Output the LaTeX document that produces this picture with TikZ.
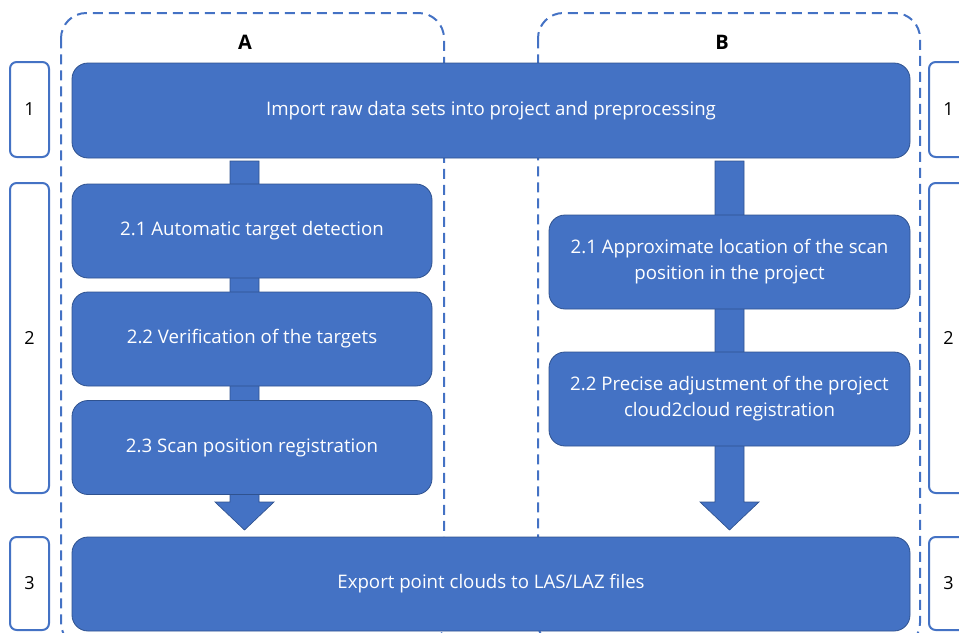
\documentclass[tikz,border=0pt]{standalone}
\usepackage{fontspec}
\setmainfont{Open Sans}
\usetikzlibrary{calc}
\definecolor{bfill}{HTML}{4472C4}
\definecolor{bedge}{HTML}{2F528F}
\tikzset{
  stepbox/.style={draw=bedge, line width=0.6pt, fill=bfill, rounded corners=12pt, text=white,
    align=center, inner sep=0pt, font=\fontsize{14}{19.5}\selectfont},
  sidebox/.style={draw=bfill, line width=1.5pt, fill=white, rounded corners=5pt, inner sep=0pt,
    minimum width=29.25pt, font=\fontsize{13.5}{16}\selectfont},
  groupbox/.style={draw=bfill, line width=1.5pt, dash pattern=on 7.5pt off 4.5pt, rounded corners=19pt},
  arrowbody/.style={fill=bfill, draw=bedge, line width=0.5pt},
  grouplabel/.style={font=\fontsize{15}{18}\selectfont\bfseries}
}
\begin{document}
\begin{tikzpicture}[x=0.75pt, y=-0.75pt]
\useasboundingbox (0,0) rectangle (959,632);
\clip (0,0) rectangle (959,632);
% group boxes
\draw[groupbox] (61,13) rectangle (444,648);
\draw[groupbox] (538,13) rectangle (920,648);
\node[grouplabel] (labA) at (245,42) {A};
\node[grouplabel] (labB) at (722,42) {B};
% arrow coordinates
\coordinate (la1) at (244.5,161);
\coordinate (la2) at (244.5,530);
\coordinate (ra1) at (729.5,161);
\coordinate (ra2) at (729.5,530);
% arrows (behind boxes)
\filldraw[arrowbody] ($(la1)+(-14.5,0)$) -- ($(la1)+(14.5,0)$) -- ($(la2)+(14.5,-28)$) -- ($(la2)+(29.5,-28)$) -- (la2) -- ($(la2)+(-29.5,-28)$) -- ($(la2)+(-14.5,-28)$) -- cycle;
\filldraw[arrowbody] ($(ra1)+(-14.5,0)$) -- ($(ra1)+(14.5,0)$) -- ($(ra2)+(14.5,-28)$) -- ($(ra2)+(29.5,-28)$) -- (ra2) -- ($(ra2)+(-29.5,-28)$) -- ($(ra2)+(-14.5,-28)$) -- cycle;
% main boxes
\node[stepbox, minimum width=628.5pt, minimum height=71.25pt] (top) at (491,110.5) {Import raw data sets into project and preprocessing};
\node[stepbox, minimum width=628.5pt, minimum height=70.5pt] (bot) at (491,584) {Export point clouds to LAS/LAZ files};
\node[stepbox, minimum width=270pt, minimum height=70.5pt] (a1) at (252,231) {2.1 Automatic target detection};
\node[stepbox, minimum width=270pt, minimum height=70.5pt] (a2) at (252,339) {2.2 Verification of the targets};
\node[stepbox, minimum width=270pt, minimum height=70.5pt] (a3) at (252,447.5) {2.3 Scan position registration};
\node[stepbox, minimum width=270.75pt, minimum height=70.5pt] (b1) at (729.5,262) {2.1 Approximate location of the scan\\position in the project};
\node[stepbox, minimum width=270.75pt, minimum height=70.5pt] (b2) at (729.5,399) {2.2 Precise adjustment of the project\\cloud2cloud registration};
% side boxes
\node[sidebox, minimum height=71.25pt] (l1) at (29.5,109.5) {1};
\node[sidebox, minimum height=232.5pt] (l2) at (29.5,338) {2};
\node[sidebox, minimum height=69.75pt] (l3) at (29.5,583.5) {3};
\node[sidebox, minimum height=71.25pt] (r1) at (948.5,109.5) {1};
\node[sidebox, minimum height=232.5pt] (r2) at (948.5,338) {2};
\node[sidebox, minimum height=69.75pt] (r3) at (948.5,583.5) {3};
\end{tikzpicture}
\end{document}
